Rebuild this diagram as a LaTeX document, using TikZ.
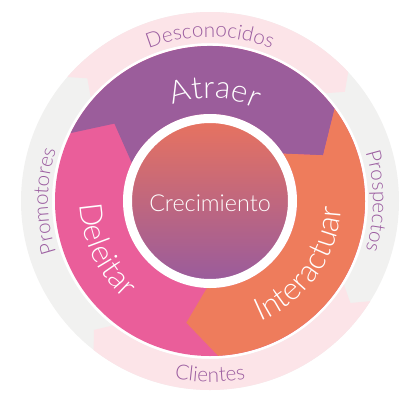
\documentclass[tikz,border=0pt]{standalone}
\usepackage{fontspec}
\setmainfont{Lato Light}
\usetikzlibrary{decorations.text}

\definecolor{atraerPurple}{HTML}{9B5D9B}
\definecolor{interOrange}{HTML}{EE7C5C}
\definecolor{deleitarPink}{HTML}{EA5E9A}
\definecolor{ringPink}{HTML}{FCE4E8}
\definecolor{ringGray}{HTML}{F1F1F0}
\definecolor{ringText}{HTML}{9B5DA0}
\definecolor{coreTop}{HTML}{E8735F}
\definecolor{coreBottom}{HTML}{985B9D}

\newcommand{\ringfont}{\fontsize{15.5}{18}\selectfont}
\newcommand{\stagefont}{\fontsize{23.5}{27}\selectfont}
\newcommand{\corefont}{\fontsize{17.5}{21}\selectfont}

\begin{document}
\begin{tikzpicture}[
    x=0.75pt, y=0.75pt,
    ringlabel/.style={decorate, decoration={text along path, text align=center, text color=ringText}},
    stagelabel/.style={decorate, decoration={text along path, text align=center, text color=white}},
    core/.style={circle, minimum size=123.75pt, inner sep=0pt, draw=white, line width=6.75pt,
        top color=coreTop, bottom color=coreBottom, text=white, font=\corefont,
        text height=16.4pt, text depth=0pt}
]
    \useasboundingbox (-210,-203) rectangle (210,201);

    % Outer ring: stages of the contact
    \fill[ringGray, even odd rule] (0,0) circle (189) (0,0) circle (158);
    \fill[ringPink] (139:189) arc[start angle=139, end angle=43, radius=189] -- (39:173.5)
        -- (43:158) arc[start angle=43, end angle=139, radius=158] -- (135:173.5) -- cycle;
    \fill[ringPink] (-32:189) arc[start angle=-32, end angle=-128, radius=189] -- (-132:173.5)
        -- (-128:158) arc[start angle=-128, end angle=-32, radius=158] -- (-36:173.5) -- cycle;

    % Main wheel: Atraer, Interactuar, Deleitar
    \fill[deleitarPink] (0,0) circle (155);
    \fill[atraerPurple] (154:155) arc[start angle=154, end angle=36.5, radius=155] -- (22:122)
        -- (33:87) arc[start angle=33, end angle=154, radius=87] -- (141:123) -- cycle;
    \fill[interOrange] (36.5:155) arc[start angle=36.5, end angle=-87, radius=155] -- (-101:124)
        -- (-92:87) arc[start angle=-92, end angle=33, radius=87] -- (22:122) -- cycle;

    % Centre
    \node[core] (crecimiento) at (0,0) {Crecimiento};

    % Ring labels
    \path[ringlabel, decoration={text={|\ringfont|Desconocidos}}]
        (135:164) arc[start angle=135, end angle=45, radius=164];
    \path[ringlabel, decoration={text={|\ringfont|Prospectos}}]
        (45:163) arc[start angle=45, end angle=-45, radius=163];
    \path[ringlabel, decoration={text={|\ringfont|Clientes}}]
        (-135:181) arc[start angle=-135, end angle=-45, radius=181];
    \path[ringlabel, decoration={text={|\ringfont|Promotores}}]
        (225:162) arc[start angle=225, end angle=135, radius=162];

    % Stage labels
    \path[stagelabel, decoration={text={|\stagefont|Atraer}}]
        (130:103) arc[start angle=130, end angle=45, radius=103];
    \path[stagelabel, decoration={text={|\stagefont|Interactuar}}]
        (-80:131) arc[start angle=-80, end angle=10, radius=131];
    \path[stagelabel, decoration={text={|\stagefont|Deleitar}}]
        (160:130) arc[start angle=160, end angle=250, radius=130];
\end{tikzpicture}
\end{document}
